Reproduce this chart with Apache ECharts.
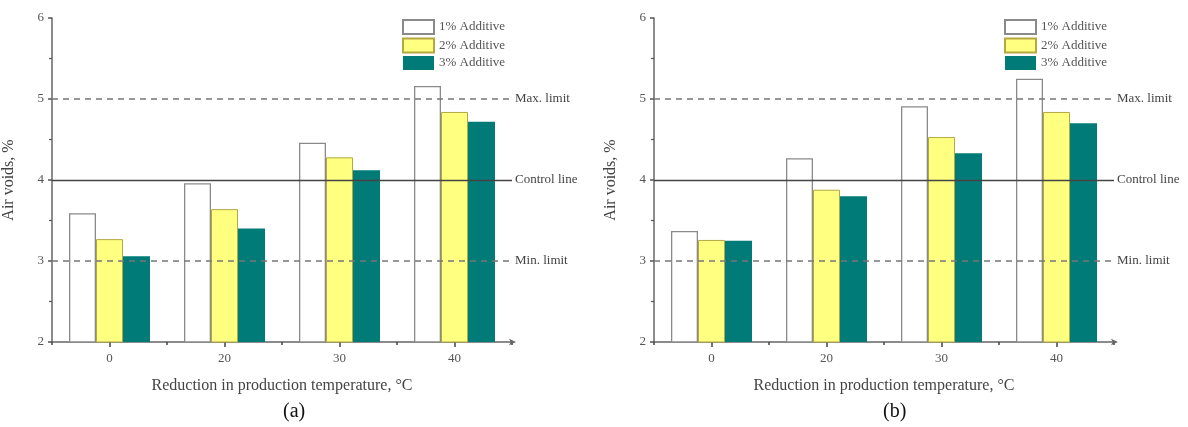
<!DOCTYPE html>
<html><head><meta charset="utf-8">
<script src="https://cdn.jsdelivr.net/npm/echarts@6/dist/echarts.min.js"></script>
<style>html,body{margin:0;padding:0;background:#fff}#c{width:1188px;height:427px}</style>
</head><body><div id="c"></div>
<script>
const categories = ['0', '20', '30', '40'];
const seriesNames = ['1% Additive', '2% Additive', '3% Additive'];
const a1 = [3.59, 3.96, 4.46, 5.16];
const a2 = [3.27, 3.64, 4.28, 4.84];
const a3 = [3.06, 3.40, 4.12, 4.72];
const b1 = [3.37, 4.27, 4.91, 5.25];
const b2 = [3.26, 3.88, 4.53, 4.84];
const b3 = [3.25, 3.80, 4.33, 4.70];
const limitValues = [5, 4, 3];
const limitNames = ['Max. limit', 'Control line', 'Min. limit'];
const panelLabels = ['(a)', '(b)'];
const yTicks = { min: 2, max: 6, interval: 1 };

const FONT = '"Liberation Serif", "Times New Roman", serif';
const grids = [
  { left: 52, top: 18, width: 460, height: 324 },
  { left: 654, top: 18, width: 460, height: 324 }
];
const styles = [
  { color: '#ffffff', borderColor: '#8a8a8a', borderWidth: 1.3 },
  { color: '#ffff80', borderColor: '#b5a742', borderWidth: 1 },
  { color: '#007b78', borderColor: '#007b78', borderWidth: 0 }
];

const xAxes = [], yAxes = [], series = [], legends = [], graphics = [];
[0, 1].forEach(g => {
  xAxes.push({
    type: 'category', gridIndex: g, data: categories,
    name: 'Reduction in production temperature, °C', nameLocation: 'middle', nameGap: 36,
    nameTextStyle: { fontFamily: FONT, fontSize: 16, color: '#444' },
    axisLine: { lineStyle: { color: '#666', width: 1.5 }, symbol: ['none', 'arrow'], symbolSize: [5, 7], symbolOffset: [0, 4] },
    axisTick: { show: true, inside: false, alignWithLabel: true, length: 5, lineStyle: { color: '#444', width: 1.5 } },
    axisLabel: { fontFamily: FONT, fontSize: 13, color: '#555', margin: 10 },
    splitLine: { show: false }
  });
  xAxes.push({
    type: 'category', gridIndex: g, data: categories, position: 'bottom',
    axisLine: { show: false },
    axisTick: { show: true, inside: false, length: 3, lineStyle: { color: '#444', width: 1.5 } },
    axisLabel: { show: false }, splitLine: { show: false }
  });
  yAxes.push({
    type: 'value', gridIndex: g, min: yTicks.min, max: yTicks.max, interval: yTicks.interval,
    name: 'Air voids, %', nameLocation: 'middle', nameGap: 35,
    nameTextStyle: { fontFamily: FONT, fontSize: 16, color: '#444' },
    axisLine: { show: true, lineStyle: { color: '#666', width: 1.5 } },
    axisTick: { show: true, length: 4, lineStyle: { color: '#555', width: 1.5 } },
    minorTick: { show: true, splitNumber: 2, length: 3, lineStyle: { color: '#555', width: 1.2 } },
    axisLabel: { fontFamily: FONT, fontSize: 13, color: '#555', margin: 8 },
    splitLine: { show: false }
  });
  const vals = g === 0 ? [a1, a2, a3] : [b1, b2, b3];
  vals.forEach((v, i) => {
    const s = {
      type: 'bar', name: seriesNames[i], data: v,
      xAxisIndex: g * 2, yAxisIndex: g,
      barWidth: 27, barGap: '0%',
      itemStyle: styles[i], z: 2
    };
    if (i === 0) {
      s.markLine = {
        silent: true, symbol: 'none', z: 5,
        label: { show: true, position: 'end', formatter: p => p.name, fontFamily: FONT, fontSize: 13, color: '#444', distance: 3 },
        data: limitValues.map((lv, k) => ({
          name: limitNames[k], yAxis: lv,
          lineStyle: k === 1 ? { type: 'solid', color: '#444', width: 1.3 } : { type: [6, 5], color: '#777', width: 1.6 }
        }))
      };
    }
    series.push(s);
  });
  legends.push({
    orient: 'vertical', left: g === 0 ? 402 : 1004, top: 19, padding: 0,
    icon: 'rect',
    itemWidth: 31, itemHeight: 14, itemGap: 2.5,
    data: seriesNames,
    textStyle: { fontFamily: FONT, fontSize: 13, color: '#555' }
  });
  graphics.push({
    type: 'text', left: g === 0 ? 283 : 883, top: 402,
    style: { text: panelLabels[g], font: '20px ' + FONT, fill: '#111' }
  });
});

const chart = echarts.init(document.getElementById('c'), null, { renderer: 'canvas' });
chart.setOption({
  animation: false,
  backgroundColor: '#fff',
  grid: grids, xAxis: xAxes, yAxis: yAxes, series: series, legend: legends, graphic: graphics
});
</script></body></html>
